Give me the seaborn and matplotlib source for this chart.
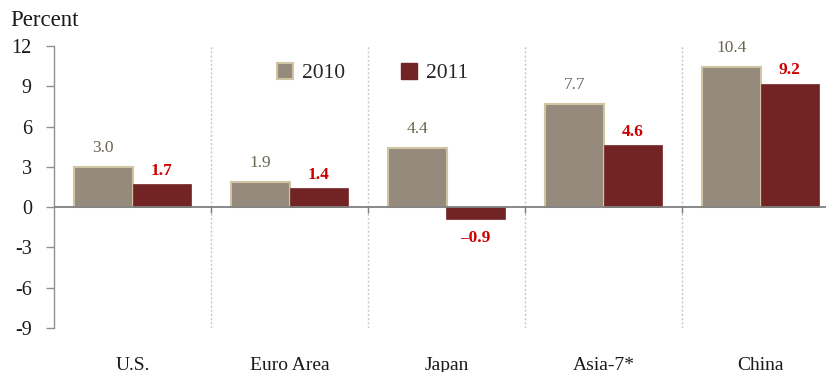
import matplotlib
matplotlib.use("Agg")
import matplotlib.pyplot as plt
import seaborn as sns
import pandas as pd
from matplotlib.patches import Patch

categories = ["U.S.", "Euro Area", "Japan", "Asia-7*", "China"]
years = ["2010", "2011"]
values_2010 = [3.0, 1.9, 4.4, 7.7, 10.4]
values_2011 = [1.7, 1.4, -0.9, 4.6, 9.2]
yticks = [-9, -6, -3, 0, 3, 6, 9, 12]

df = pd.DataFrame({
    "category": categories * 2,
    "year": [years[0]] * len(categories) + [years[1]] * len(categories),
    "value": values_2010 + values_2011,
})

sns.set_theme(style="white")
plt.rcParams["font.family"] = ["Liberation Serif", "DejaVu Serif"]

gray = "#968a7d"
gray_edge = "#cfc5a3"
red = "#722425"
gray_text = "#6b6553"
red_text = "#cc0000"

fig = plt.figure(figsize=(8.26, 3.72), dpi=100)
ax = fig.add_axes([54/826, 44/372, 785/826, 282/372])

sns.barplot(data=df, x="category", y="value", hue="year", order=categories,
            hue_order=years, palette=[gray, red], width=0.745, ax=ax,
            legend=False, saturation=1)

for bar in ax.containers[0]:
    bar.set_edgecolor(gray_edge)
    bar.set_linewidth(1.5)
for bar in ax.containers[1]:
    bar.set_edgecolor(red)
    bar.set_linewidth(0.5)

def fmt(v):
    s = f"{abs(v):.1f}"
    return ("\u2013" + s) if v < 0 else s

# value labels
for bar, v in zip(ax.containers[0], values_2010):
    x = bar.get_x() + bar.get_width() / 2
    ax.annotate(fmt(v), (x, v), xytext=(0, 8), textcoords="offset points",
                ha="center", va="bottom", color=gray_text, fontsize=12.5)
for bar, v in zip(ax.containers[1], values_2011):
    x = bar.get_x() + bar.get_width() / 2
    if v >= 0:
        ax.annotate(fmt(v), (x, v), xytext=(0, 4), textcoords="offset points",
                    ha="center", va="bottom", color=red_text, fontsize=12.5,
                    fontweight="bold")
    else:
        ax.annotate(fmt(v), (x, v), xytext=(0, -8), textcoords="offset points",
                    ha="center", va="top", color=red_text, fontsize=12.5,
                    fontweight="bold")

n = len(categories)
ax.set_xlim(-0.5, n - 0.5)
ax.set_ylim(-9, 12)
ax.set_yticks(yticks)
ax.set_yticklabels([str(t) for t in yticks])

# separators
for i in range(n - 1):
    ax.vlines(i + 0.5, -9, 12, colors="#c8c8c8", linestyles=(0, (1.5, 1.5)), lw=1, zorder=0)
    ax.vlines(i + 0.5, -0.45, 0, colors="#808080", lw=1, zorder=3)
ax.axhline(0, color="#808080", lw=1.3, zorder=3)

for s in ["top", "right", "bottom"]:
    ax.spines[s].set_visible(False)
ax.spines["left"].set_color("#909090")
ax.spines["left"].set_linewidth(1)

ax.tick_params(axis="y", direction="out", length=6, width=1, color="#909090",
               pad=10, labelsize=14.5, labelcolor="#1a1a1a", left=True)
ax.tick_params(axis="x", length=0, pad=21, labelsize=14, labelcolor="#1a1a1a")
ax.set_xlabel("")
ax.set_ylabel("")

handles = [Patch(facecolor=gray, edgecolor=gray_edge, linewidth=1.5),
           Patch(facecolor=red, edgecolor=red)]
ax.legend(handles, years, ncol=2, frameon=False, loc="center left",
          bbox_to_anchor=((277 - 54) / 785, (328 - 73) / 282),
          borderpad=0, borderaxespad=0, handlelength=0.75, handleheight=0.75,
          handletextpad=0.4, columnspacing=2.6, fontsize=15.5)

fig.text(10/826, 1 - 20/372, "Percent", fontsize=16.5, va="center", ha="left",
         color="#1a1a1a")

fig.savefig("out.png", dpi=100)
